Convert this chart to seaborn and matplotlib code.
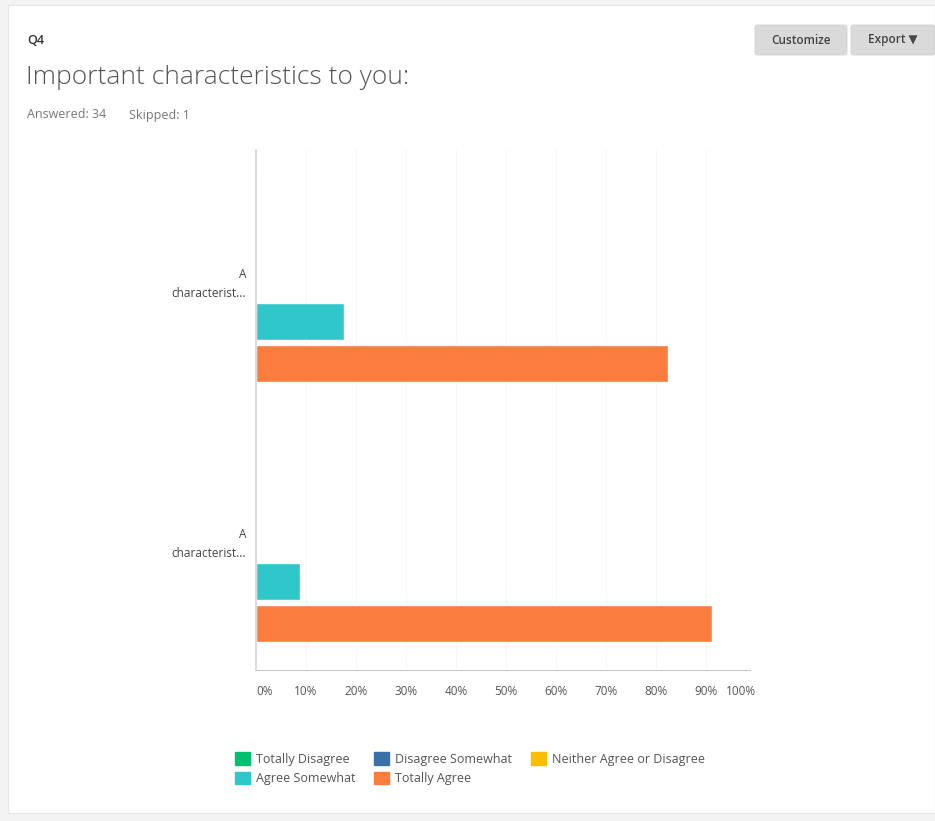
import pandas as pd
import numpy as np
import seaborn as sns
import matplotlib.pyplot as plt
from matplotlib.patches import Patch, FancyBboxPatch, Rectangle

sns.set_style('white')
plt.rcParams['font.family'] = ['Open Sans', 'DejaVu Sans']

# data (percent of respondents, 34 answered)
rows = ['row 1', 'row 2']
row_labels = ['A\ncharacterist...', 'A\ncharacterist...']
answers = ['Totally Disagree', 'Disagree Somewhat', 'Neither Agree or Disagree',
           'Agree Somewhat', 'Totally Agree']
totally_disagree = [0.0, 0.0]
disagree_somewhat = [0.0, 0.0]
neither = [0.0, 0.0]
agree_somewhat = [17.65, 8.82]
totally_agree = [82.35, 91.18]
x_ticks = [0, 10, 20, 30, 40, 50, 60, 70, 80, 90, 100]

colors = ['#00bf6f', '#3a70a8', '#f9be00', '#2fc7c9', '#fa7d3d']
palette = dict(zip(answers, colors))

df = pd.DataFrame({
    'row': rows * 5,
    'answer': np.repeat(answers, len(rows)),
    'pct': totally_disagree + disagree_somewhat + neither + agree_somewhat + totally_agree,
})

W, H = 935, 821
fig = plt.figure(figsize=(W / 100, H / 100), dpi=100)
fig.patch.set_facecolor('#f3f3f3')
fig.patches.append(Rectangle((8 / W, 1 - 813 / H), (W - 8) / W, 808 / H,
                             transform=fig.transFigure, facecolor='white',
                             edgecolor='#e6e6e6', lw=0.8, zorder=-10))

ax = fig.add_axes([256 / W, 1 - 670 / H, 500 / W, 520 / H])
ax.set_zorder(5)
sns.barplot(data=df, y='row', x='pct', hue='answer', hue_order=answers,
            order=rows, palette=palette, orient='h', width=0.805, gap=0.12,
            legend=False, ax=ax, saturation=1)

ax.set_xlim(0, 100)
ax.set_ylim(1.5, -0.5)
ax.set_xlabel('')
ax.set_ylabel('')
ax.set_xticks(x_ticks)
labels = ax.set_xticklabels([f'{t}%' for t in x_ticks], fontsize=8.5, color='#555555')
labels[0].set_ha('left')
labels[-1].set_ha('right')
ax.set_yticks(range(len(rows)))
ax.set_yticklabels(row_labels, fontsize=8.5, color='#444444', ha='right',
                   multialignment='right', linespacing=1.55)
ax.tick_params(axis='x', length=0, pad=11)
ax.tick_params(axis='y', length=0, pad=7)

ax.grid(axis='x', color='#f6f6f6', lw=0.8)
ax.set_axisbelow(True)
ax.patch.set_alpha(0)
for s in ['top', 'right']:
    ax.spines[s].set_visible(False)
ax.spines['left'].set_color('#d6d6d6')
ax.spines['left'].set_linewidth(1.2)
ax.spines['bottom'].set_color('#c8c8c8')
ax.spines['bottom'].set_bounds(0, 98.8)

# header
fig.text(27 / W, 1 - 41 / H, 'Q4', fontsize=9, color='#333333',
         fontweight='semibold', va='center')
fig.text(26 / W, 1 - 77 / H, 'Important characteristics to you:', fontsize=19,
         color='#555555', va='center', fontweight='light')
fig.text(27 / W, 1 - 115 / H, 'Answered: 34', fontsize=9,
         color='#777777', va='center')
fig.text(129 / W, 1 - 115 / H, 'Skipped: 1', fontsize=9,
         color='#777777', va='center')

# buttons
for x0, x1, txt in [(755, 847, 'Customize'), (851, 935, 'Export \u25BC')]:
    fig.patches.append(FancyBboxPatch((x0 / W, 1 - 55 / H), (x1 - x0) / W, 30 / H,
                                      boxstyle='round,pad=0,rounding_size=0.003',
                                      transform=fig.transFigure,
                                      facecolor='#dadada', edgecolor='#d0d0d0', lw=0.6))
    fig.text((x0 + x1) / 2 / W, 1 - 40 / H, txt, fontsize=8.5, color='#444444',
             ha='center', va='center', fontweight='semibold')

# legend, reordered so that column filling gives the reference rows
handles = [Patch(facecolor=palette[a], edgecolor=palette[a], label=a) for a in answers]
order = [0, 3, 1, 4, 2]
fig.legend([handles[i] for i in order], [answers[i] for i in order],
           ncol=3, loc='upper left', bbox_to_anchor=(224 / W, 1 - 741 / H),
           frameon=False, fontsize=9, labelcolor='#555555',
           handlelength=1.2, handleheight=1.2, handletextpad=0.5,
           columnspacing=1.45, labelspacing=0.45)

fig.savefig('out.png', dpi=100, facecolor=fig.get_facecolor())
